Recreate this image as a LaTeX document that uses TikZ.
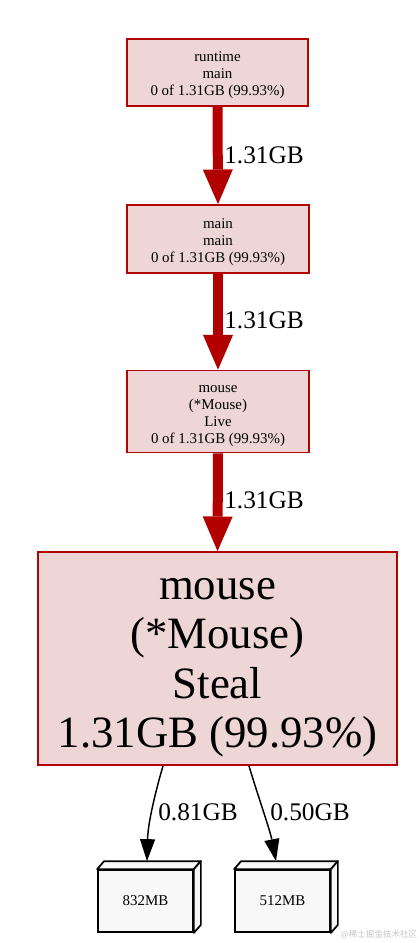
\documentclass[tikz,border=0pt]{standalone}
\usepackage{fontspec}
\setmainfont{Liberation Serif}
\newfontfamily\cjkfont{Noto Sans CJK SC}
\usetikzlibrary{arrows.meta,calc}
\definecolor{nodeborder}{HTML}{B20400}
\definecolor{nodefill}{HTML}{EDD6D5}
\definecolor{heavyedge}{HTML}{B20000}
\definecolor{leaffill}{HTML}{F8F8F8}
\definecolor{wmgray}{HTML}{C4C4C4}
\newcommand{\smallstrut}{\rule{0pt}{12pt}}
\newcommand{\bigstrut}{\rule{0pt}{29.5pt}}
\tikzset{
  fnode/.style={draw=nodeborder, fill=nodefill, line width=1.3pt, inner sep=0pt,
    align=center, font=\fontsize{11.2}{12.8}\selectfont},
  bignode/.style={fnode, font=\fontsize{33.6}{37.2}\selectfont},
  heavy/.style={draw=heavyedge, line width=7.5pt,
    -{Triangle[length=26pt,width=22.5pt,line width=0pt]}},
  thin/.style={draw=black, line width=1.1pt,
    -{Triangle[length=16.5pt,width=11.5pt,line width=0pt]}},
  elabel/.style={inner sep=0pt, font=\fontsize{19}{22}\selectfont},
  leaf/.style={draw=black, fill=leaffill, line width=1.3pt, inner sep=0pt,
    font=\fontsize{11.2}{12.8}\selectfont, minimum width=95*0.75pt, minimum height=62*0.75pt},
  leafside/.style={draw=black, fill=leaffill, line width=1.3pt, line join=round},
}
\begin{document}
\begin{tikzpicture}[x=0.75pt,y=-0.75pt]
\useasboundingbox[fill=white] (0,0) rectangle (420,943);

\node[fnode, minimum width=181*0.75pt, minimum height=67*0.75pt] (n1) at (217.5,72.5)
  {\smallstrut runtime\\main\\0 of 1.31GB (99.93\%)};
\node[fnode, minimum width=182*0.75pt, minimum height=68*0.75pt] (n2) at (218,239)
  {\smallstrut main\\main\\0 of 1.31GB (99.93\%)};
\node[fnode, minimum width=182*0.75pt, minimum height=82*0.75pt] (n3) at (218,411.5)
  {\smallstrut mouse\\(*Mouse)\\Live\\0 of 1.31GB (99.93\%)};
\node[bignode, minimum width=359*0.75pt, minimum height=213*0.75pt] (n4) at (217.5,658.5)
  {\bigstrut mouse\\(*Mouse)\\Steal\\1.31GB (99.93\%)};

\draw[heavy] (n1.south) -- (n2.north);
\draw[heavy] (n2.south) -- (n3.north);
\draw[heavy] (n3.south) -- (n4.north);
\node[elabel, anchor=west] (l1) at (224,155) {1.31GB};
\node[elabel, anchor=west] (l2) at (224,320) {1.31GB};
\node[elabel, anchor=west] (l3) at (224,500) {1.31GB};

% leaf boxes (3D)
\node[leaf] (b1) at (145.5,901) {832MB};
\node[leaf] (b2) at (282.5,901) {512MB};
\foreach \b in {b1,b2}{
  \path[leafside] (\b.north west) -- ++(7,-8) -- ($(\b.north east)+(7,-8)$) -- (\b.north east) -- cycle;
  \path[leafside] (\b.north east) -- ++(7,-8) -- ($(\b.south east)+(7,-8)$) -- (\b.south east) -- cycle;
}
\coordinate (t1) at ($(b1.north)+(1.5,-8)$);
\coordinate (t2) at ($(b2.north)+(-6.5,-8)$);
\coordinate (s1) at ($(n4.south)+(-54.5,0)$);
\coordinate (s2) at ($(n4.south)+(31.5,0)$);
\draw[thin] (s1) .. controls (156,790) and (148,822) .. (t1);
\draw[thin] (s2) .. controls (256,790) and (270,830) .. (t2);
\node[elabel, anchor=west] (l4) at (158,812) {0.81GB};
\node[elabel, anchor=west] (l5) at (270,812) {0.50GB};

\node[text=wmgray, inner sep=0pt, font=\cjkfont\fontsize{6.4}{7}\selectfont] (wm) at (379,935) {@稀土掘金技术社区};
\end{tikzpicture}
\end{document}
